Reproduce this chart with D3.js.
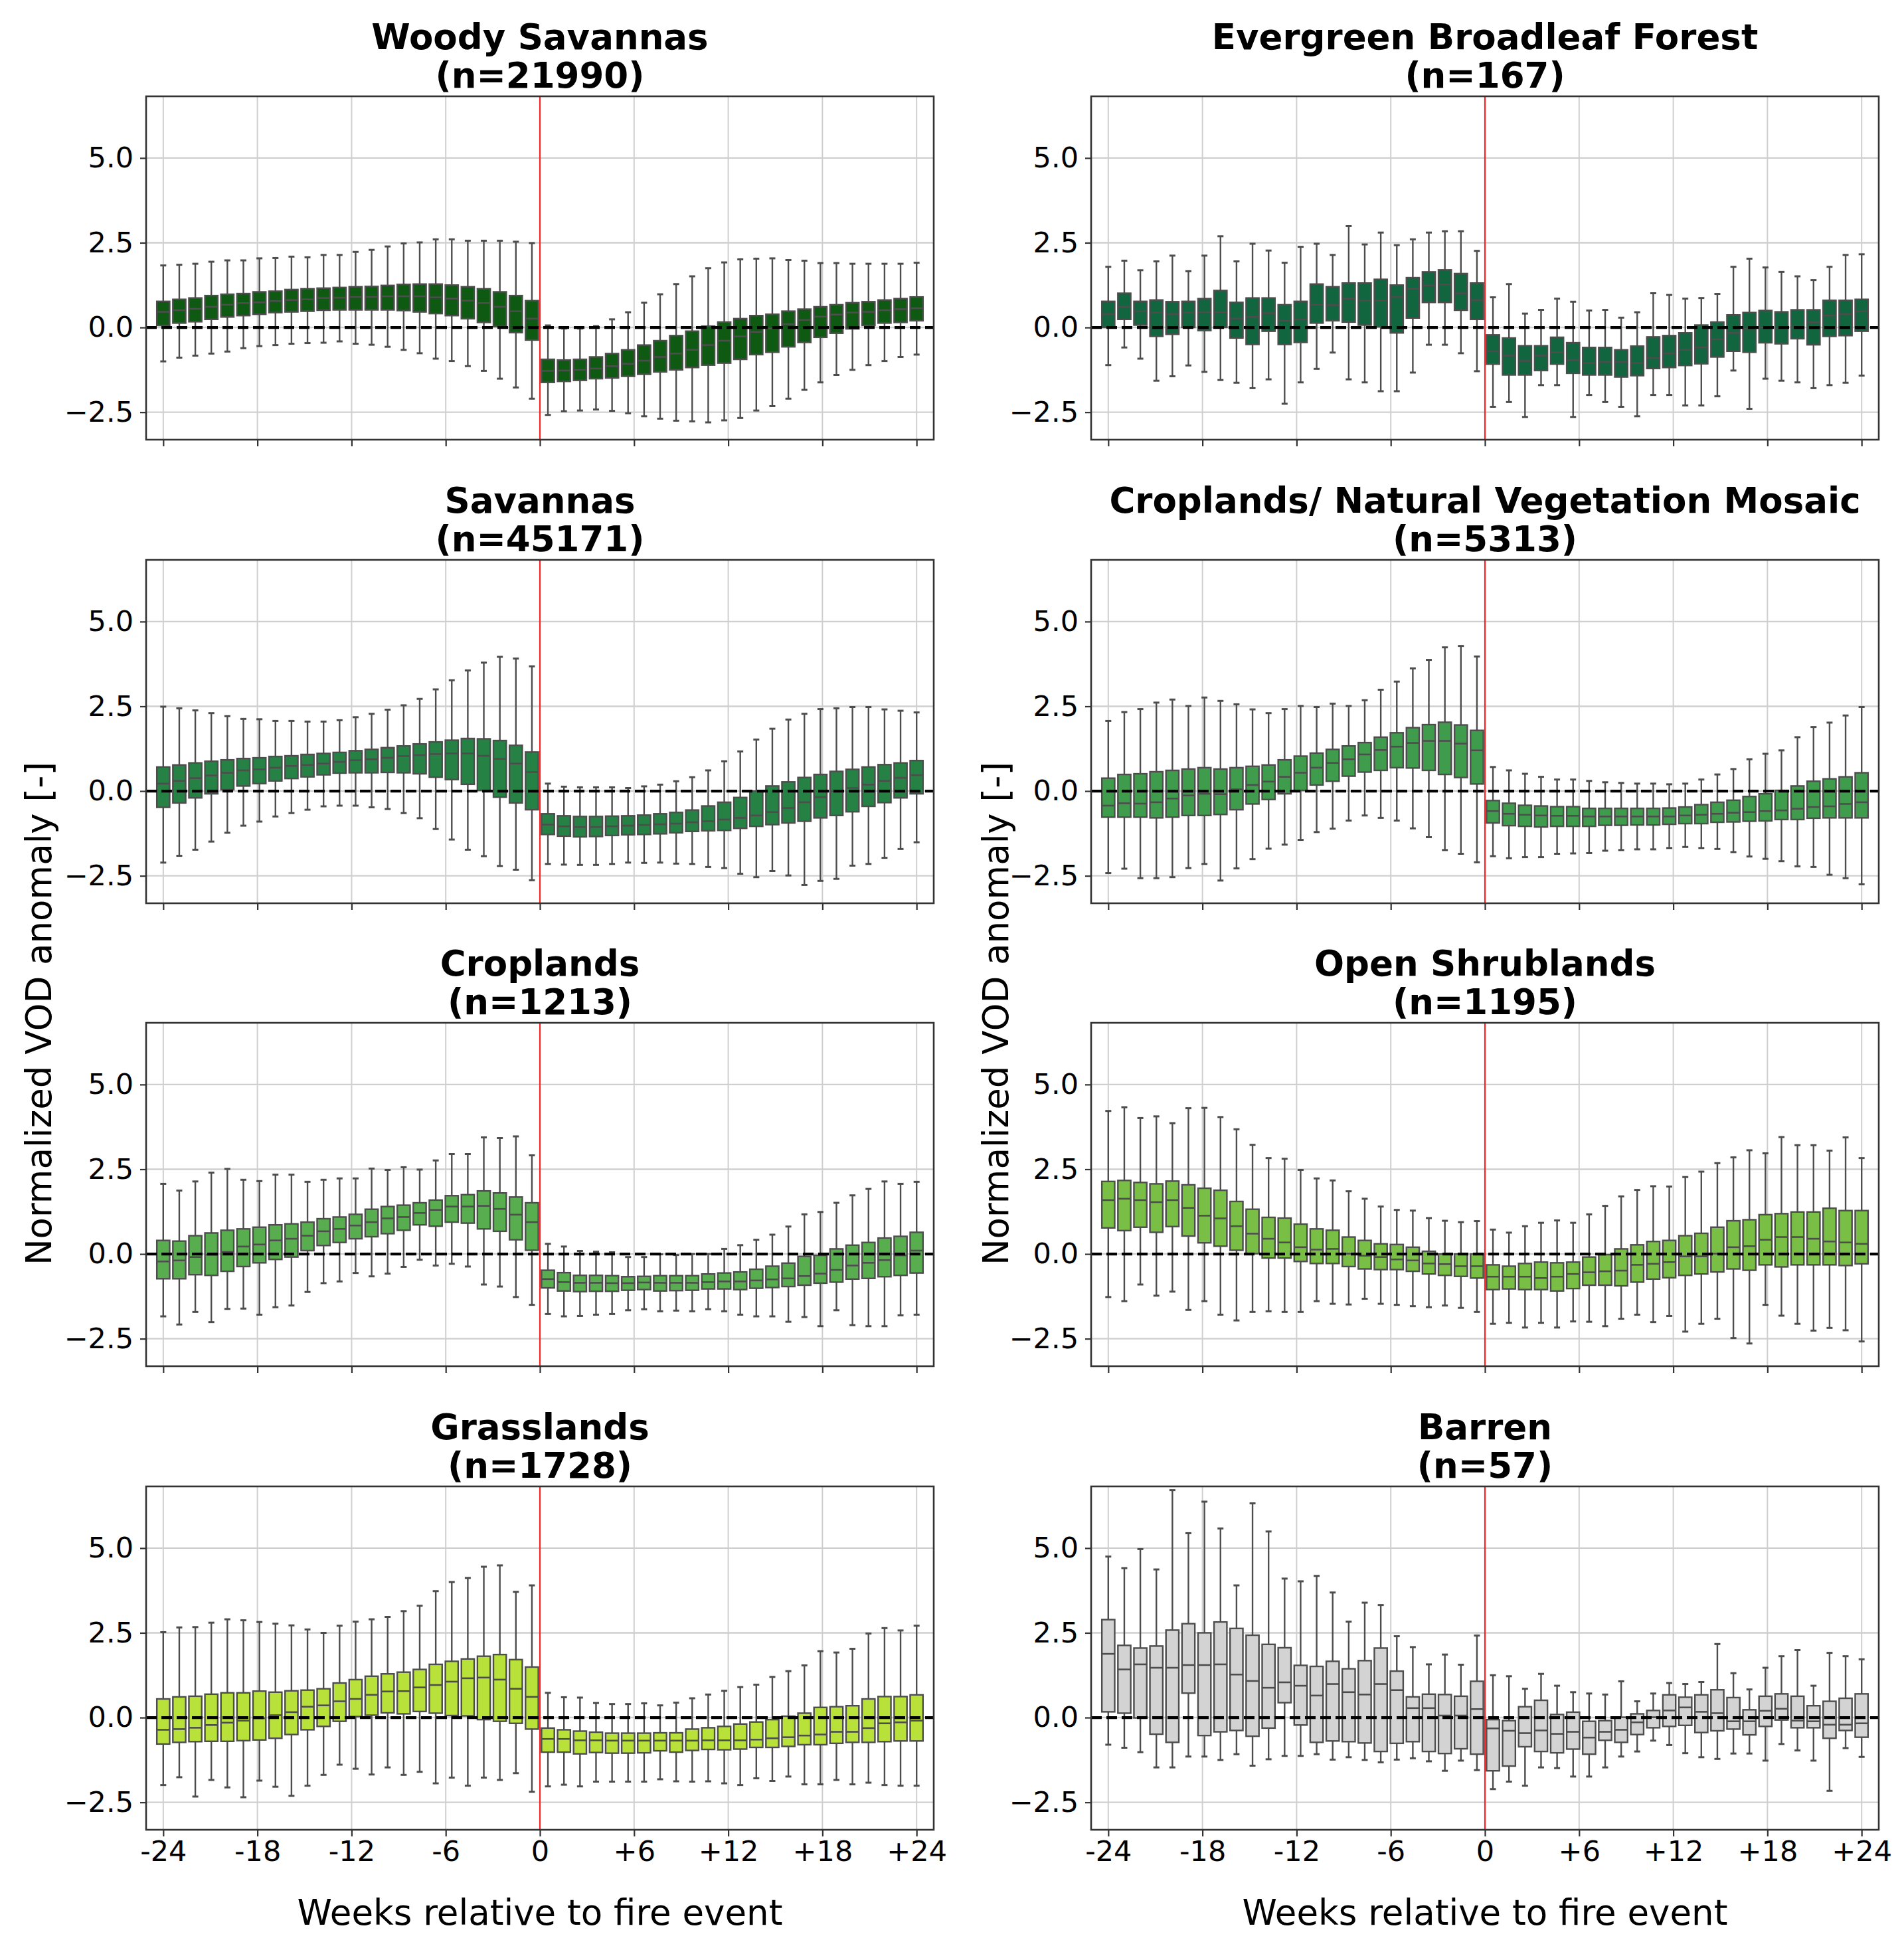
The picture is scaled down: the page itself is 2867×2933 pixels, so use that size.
<!DOCTYPE html>
<html>
<head>
<meta charset="utf-8">
<script src="https://cdn.jsdelivr.net/npm/d3@7"></script>
<style>
  body { margin: 0; background: #fff; }
  text { font-family: "DejaVu Sans", sans-serif; fill: #000; }
</style>
</head>
<body>
<div id="chart"></div>
<script>
"use strict";

// weeks relative to the fire event (no week 0 box)
const weeks = [-24, -23, -22, -21, -20, -19, -18, -17, -16, -15, -14, -13, -12, -11, -10, -9, -8, -7, -6, -5, -4, -3, -2, -1,
               1, 2, 3, 4, 5, 6, 7, 8, 9, 10, 11, 12, 13, 14, 15, 16, 17, 18, 19, 20, 21, 22, 23, 24];
const tickLabels = ["-24", "-18", "-12", "-6", "0", "+6", "+12", "+18", "+24"];
const yTicks = [-2.5, 0, 2.5, 5];

const panelTitles = ["Woody Savannas", "Evergreen Broadleaf Forest", "Savannas", "Croplands/ Natural Vegetation Mosaic",
                     "Croplands", "Open Shrublands", "Grasslands", "Barren"];
const panelCounts = [21990, 167, 45171, 5313, 1213, 1195, 1728, 57];

// each box: [lower whisker, q1, median, q3, upper whisker]
const woodySavannas = [
  [-1.00, 0.06, 0.46, 0.77, 1.83], [-0.89, 0.13, 0.51, 0.83, 1.85], [-0.83, 0.17, 0.55, 0.87, 1.88], [-0.77, 0.24, 0.61, 0.94, 1.94],
  [-0.71, 0.31, 0.67, 0.98, 1.98], [-0.61, 0.35, 0.72, 1.00, 1.98], [-0.55, 0.39, 0.74, 1.05, 2.04], [-0.52, 0.44, 0.78, 1.07, 2.05],
  [-0.48, 0.46, 0.81, 1.12, 2.09], [-0.46, 0.48, 0.83, 1.14, 2.07], [-0.45, 0.51, 0.87, 1.16, 2.14], [-0.41, 0.52, 0.88, 1.18, 2.14],
  [-0.48, 0.52, 0.90, 1.20, 2.23], [-0.51, 0.52, 0.90, 1.21, 2.29], [-0.57, 0.52, 0.92, 1.24, 2.39], [-0.66, 0.50, 0.92, 1.27, 2.48],
  [-0.76, 0.46, 0.92, 1.28, 2.51], [-0.92, 0.41, 0.89, 1.28, 2.60], [-0.99, 0.35, 0.85, 1.25, 2.60], [-1.14, 0.26, 0.79, 1.20, 2.56],
  [-1.28, 0.15, 0.72, 1.14, 2.56], [-1.51, 0.03, 0.61, 1.05, 2.56], [-1.77, -0.15, 0.48, 0.94, 2.53], [-2.10, -0.37, 0.26, 0.79, 2.49],
  [-2.58, -1.62, -1.28, -0.94, 0.06], [-2.47, -1.59, -1.27, -0.96, -0.03], [-2.45, -1.56, -1.25, -0.94, -0.03], [-2.42, -1.51, -1.21, -0.87, 0.04],
  [-2.46, -1.49, -1.14, -0.77, 0.24], [-2.53, -1.44, -1.07, -0.66, 0.45], [-2.62, -1.38, -0.98, -0.52, 0.73], [-2.69, -1.31, -0.87, -0.39, 0.98],
  [-2.75, -1.25, -0.77, -0.24, 1.28], [-2.77, -1.18, -0.66, -0.11, 1.51], [-2.80, -1.11, -0.52, 0.04, 1.75], [-2.74, -1.05, -0.39, 0.16, 1.92],
  [-2.67, -0.94, -0.26, 0.26, 2.01], [-2.45, -0.80, -0.13, 0.35, 2.03], [-2.32, -0.73, -0.03, 0.39, 2.04], [-2.10, -0.57, 0.10, 0.48, 1.99],
  [-1.84, -0.44, 0.22, 0.54, 1.97], [-1.62, -0.29, 0.32, 0.61, 1.90], [-1.40, -0.17, 0.38, 0.67, 1.90], [-1.25, -0.04, 0.44, 0.73, 1.88],
  [-1.11, 0.06, 0.46, 0.76, 1.88], [-0.99, 0.13, 0.51, 0.81, 1.88], [-0.87, 0.15, 0.54, 0.85, 1.88], [-0.80, 0.20, 0.57, 0.90, 1.91]
];

const evergreenBroadleaf = [
  [-1.11, 0.00, 0.39, 0.77, 1.79], [-0.59, 0.24, 0.61, 1.01, 1.97], [-0.92, 0.07, 0.48, 0.77, 1.69], [-1.57, -0.26, 0.44, 0.81, 1.95],
  [-1.44, -0.20, 0.39, 0.76, 2.12], [-1.12, 0.00, 0.44, 0.77, 1.66], [-1.31, -0.09, 0.45, 0.85, 2.12], [-1.55, 0.00, 0.45, 1.09, 2.69],
  [-1.63, -0.31, 0.26, 0.74, 1.95], [-1.79, -0.50, 0.31, 0.87, 2.47], [-1.53, -0.11, 0.42, 0.87, 2.27], [-2.25, -0.50, 0.20, 0.67, 1.91],
  [-1.62, -0.44, 0.24, 0.77, 2.38], [-1.22, 0.13, 0.67, 1.28, 2.47], [-0.74, 0.20, 0.66, 1.20, 2.14], [-1.53, 0.16, 0.85, 1.31, 2.99],
  [-1.62, 0.07, 0.79, 1.31, 2.45], [-1.88, 0.02, 0.79, 1.42, 2.80], [-1.88, -0.16, 0.90, 1.25, 2.43], [-1.33, 0.28, 1.14, 1.47, 2.60],
  [-0.51, 0.74, 1.24, 1.64, 2.80], [-0.51, 0.74, 1.27, 1.70, 2.84], [-0.76, 0.51, 1.01, 1.59, 2.84], [-1.29, 0.24, 0.81, 1.31, 2.26],
  [-2.34, -1.08, -0.70, -0.22, 0.89], [-2.20, -1.40, -0.83, -0.31, 1.28], [-2.64, -1.40, -0.99, -0.54, 0.41], [-1.70, -1.27, -0.83, -0.54, 0.52],
  [-1.70, -1.08, -0.73, -0.29, 0.85], [-2.64, -1.35, -0.96, -0.45, 0.76], [-1.99, -1.40, -1.05, -0.59, 0.50], [-2.20, -1.40, -1.02, -0.59, 0.52],
  [-2.34, -1.46, -1.02, -0.66, 0.29], [-2.62, -1.42, -1.05, -0.55, 0.45], [-1.99, -1.21, -0.90, -0.28, 1.01], [-1.99, -1.18, -0.76, -0.24, 0.96],
  [-2.30, -1.12, -0.66, -0.16, 0.85], [-2.30, -1.07, -0.59, 0.07, 0.87], [-2.03, -0.87, -0.35, 0.16, 0.99], [-1.27, -0.70, -0.16, 0.37, 1.79],
  [-2.40, -0.73, -0.04, 0.44, 2.03], [-1.51, -0.45, 0.00, 0.50, 1.77], [-1.57, -0.48, -0.03, 0.46, 1.64], [-1.62, -0.33, 0.02, 0.52, 1.51],
  [-1.79, -0.51, 0.15, 0.52, 1.40], [-1.70, -0.26, 0.35, 0.80, 1.79], [-1.63, -0.24, 0.39, 0.80, 2.14], [-1.42, -0.11, 0.48, 0.83, 2.16]
];

const savannas = [
  [-2.11, -0.48, 0.22, 0.71, 2.49], [-1.91, -0.35, 0.30, 0.77, 2.44], [-1.73, -0.20, 0.38, 0.83, 2.38], [-1.49, -0.08, 0.46, 0.88, 2.30],
  [-1.23, 0.04, 0.54, 0.92, 2.21], [-1.02, 0.15, 0.61, 0.96, 2.13], [-0.90, 0.22, 0.64, 0.98, 2.12], [-0.75, 0.30, 0.69, 1.02, 2.07],
  [-0.65, 0.37, 0.74, 1.04, 2.07], [-0.55, 0.42, 0.77, 1.08, 2.05], [-0.45, 0.48, 0.81, 1.11, 2.05], [-0.43, 0.53, 0.86, 1.14, 2.09],
  [-0.43, 0.54, 0.91, 1.19, 2.18], [-0.48, 0.54, 0.94, 1.23, 2.28], [-0.53, 0.55, 0.98, 1.28, 2.40], [-0.65, 0.54, 1.03, 1.33, 2.53],
  [-0.80, 0.51, 1.06, 1.39, 2.72], [-1.12, 0.41, 1.09, 1.45, 3.00], [-1.43, 0.34, 1.11, 1.50, 3.27], [-1.73, 0.20, 1.11, 1.55, 3.56],
  [-1.92, 0.02, 1.04, 1.54, 3.79], [-2.21, -0.18, 0.95, 1.49, 3.96], [-2.32, -0.35, 0.81, 1.35, 3.91], [-2.63, -0.55, 0.56, 1.15, 3.68],
  [-2.15, -1.28, -0.99, -0.67, 0.22], [-2.17, -1.33, -1.04, -0.73, 0.13], [-2.18, -1.35, -1.06, -0.75, 0.11], [-2.18, -1.34, -1.06, -0.75, 0.11],
  [-2.15, -1.31, -1.04, -0.74, 0.11], [-2.11, -1.29, -1.02, -0.73, 0.09], [-2.12, -1.28, -1.00, -0.71, 0.14], [-2.11, -1.26, -0.98, -0.67, 0.19],
  [-2.14, -1.23, -0.96, -0.63, 0.29], [-2.15, -1.19, -0.92, -0.56, 0.41], [-2.24, -1.17, -0.89, -0.44, 0.61], [-2.27, -1.16, -0.84, -0.33, 0.88],
  [-2.44, -1.10, -0.79, -0.19, 1.17], [-2.54, -1.04, -0.72, 0.00, 1.52], [-2.36, -0.99, -0.62, 0.15, 1.84], [-2.49, -0.94, -0.50, 0.27, 2.11],
  [-2.77, -0.89, -0.33, 0.40, 2.28], [-2.65, -0.79, -0.18, 0.49, 2.42], [-2.59, -0.72, -0.01, 0.58, 2.44], [-2.20, -0.61, 0.09, 0.64, 2.48],
  [-2.15, -0.45, 0.19, 0.71, 2.48], [-1.97, -0.34, 0.30, 0.78, 2.41], [-1.71, -0.20, 0.39, 0.83, 2.37], [-1.51, -0.08, 0.47, 0.90, 2.32]
];

const croplandsMosaic = [
  [-2.42, -0.77, -0.43, 0.38, 2.07], [-2.29, -0.77, -0.36, 0.49, 2.33], [-2.57, -0.77, -0.37, 0.51, 2.42], [-2.57, -0.79, -0.33, 0.57, 2.61],
  [-2.54, -0.77, -0.22, 0.61, 2.70], [-2.27, -0.72, -0.13, 0.65, 2.51], [-2.15, -0.72, -0.08, 0.69, 2.76], [-2.64, -0.69, -0.09, 0.65, 2.66],
  [-2.28, -0.55, 0.05, 0.69, 2.56], [-2.01, -0.38, 0.18, 0.73, 2.41], [-1.70, -0.25, 0.28, 0.77, 2.30], [-1.58, -0.08, 0.42, 0.92, 2.42],
  [-1.44, 0.02, 0.54, 1.03, 2.51], [-1.21, 0.18, 0.69, 1.12, 2.48], [-1.11, 0.29, 0.83, 1.23, 2.58], [-0.87, 0.44, 0.94, 1.33, 2.51],
  [-0.72, 0.56, 1.08, 1.43, 2.68], [-0.79, 0.61, 1.21, 1.59, 2.99], [-0.87, 0.69, 1.31, 1.72, 3.23], [-1.10, 0.68, 1.42, 1.87, 3.62],
  [-1.36, 0.61, 1.48, 1.96, 3.87], [-1.74, 0.49, 1.48, 2.03, 4.24], [-1.85, 0.40, 1.40, 1.95, 4.28], [-2.10, 0.21, 1.20, 1.79, 3.97],
  [-1.92, -0.94, -0.59, -0.28, 0.71], [-1.98, -1.02, -0.67, -0.36, 0.61], [-1.95, -1.04, -0.70, -0.42, 0.51], [-1.95, -1.06, -0.72, -0.44, 0.42],
  [-1.85, -1.04, -0.73, -0.46, 0.34], [-1.84, -1.04, -0.73, -0.46, 0.34], [-1.83, -1.04, -0.75, -0.51, 0.30], [-1.76, -1.01, -0.75, -0.51, 0.26],
  [-1.74, -1.01, -0.75, -0.51, 0.24], [-1.72, -1.00, -0.75, -0.51, 0.22], [-1.72, -1.00, -0.75, -0.51, 0.22], [-1.68, -0.98, -0.75, -0.50, 0.20],
  [-1.65, -0.96, -0.72, -0.47, 0.22], [-1.68, -0.96, -0.70, -0.40, 0.34], [-1.71, -0.92, -0.67, -0.33, 0.49], [-1.80, -0.91, -0.64, -0.27, 0.65],
  [-1.93, -0.89, -0.62, -0.16, 0.94], [-2.00, -0.88, -0.59, -0.08, 1.10], [-2.07, -0.84, -0.57, 0.02, 1.20], [-2.22, -0.84, -0.52, 0.15, 1.59],
  [-2.24, -0.80, -0.47, 0.29, 1.89], [-2.47, -0.79, -0.45, 0.36, 2.02], [-2.57, -0.79, -0.38, 0.42, 2.23], [-2.75, -0.79, -0.33, 0.54, 2.48]
];

const croplands = [
  [-1.84, -0.73, -0.22, 0.40, 2.07], [-2.08, -0.73, -0.19, 0.38, 1.87], [-1.71, -0.61, -0.09, 0.54, 2.14], [-2.01, -0.63, -0.02, 0.62, 2.40],
  [-1.62, -0.51, 0.06, 0.70, 2.51], [-1.61, -0.37, 0.22, 0.74, 2.19], [-1.79, -0.26, 0.28, 0.79, 2.15], [-1.57, -0.16, 0.40, 0.86, 2.34],
  [-1.52, -0.09, 0.45, 0.89, 2.34], [-1.12, 0.10, 0.54, 0.94, 2.13], [-0.86, 0.25, 0.67, 1.04, 2.19], [-0.81, 0.34, 0.74, 1.09, 2.23],
  [-0.56, 0.45, 0.84, 1.17, 2.23], [-0.66, 0.51, 0.94, 1.32, 2.52], [-0.58, 0.60, 1.05, 1.40, 2.48], [-0.38, 0.70, 1.09, 1.44, 2.56],
  [-0.17, 0.86, 1.21, 1.51, 2.49], [-0.34, 0.82, 1.30, 1.59, 2.76], [-0.29, 0.94, 1.40, 1.72, 2.95], [-0.37, 0.91, 1.40, 1.75, 2.95],
  [-0.90, 0.74, 1.42, 1.86, 3.44], [-0.96, 0.67, 1.33, 1.80, 3.42], [-1.27, 0.42, 1.16, 1.68, 3.47], [-1.50, 0.11, 0.94, 1.51, 2.91],
  [-1.77, -1.00, -0.74, -0.48, 0.30], [-1.84, -1.09, -0.83, -0.55, 0.22], [-1.83, -1.11, -0.85, -0.63, 0.09], [-1.79, -1.10, -0.85, -0.63, 0.07],
  [-1.77, -1.10, -0.86, -0.64, 0.05], [-1.66, -1.07, -0.86, -0.67, -0.09], [-1.63, -1.05, -0.84, -0.66, -0.09], [-1.69, -1.09, -0.85, -0.64, -0.01],
  [-1.67, -1.08, -0.85, -0.64, -0.03], [-1.69, -1.07, -0.85, -0.64, 0.00], [-1.63, -1.03, -0.83, -0.59, 0.00], [-1.69, -1.03, -0.81, -0.56, 0.15],
  [-1.79, -1.05, -0.81, -0.53, 0.26], [-1.84, -1.01, -0.78, -0.45, 0.42], [-1.84, -0.99, -0.75, -0.36, 0.57], [-2.00, -0.96, -0.72, -0.27, 0.81],
  [-1.86, -0.92, -0.65, -0.07, 1.17], [-2.13, -0.86, -0.58, -0.04, 1.24], [-1.66, -0.83, -0.47, 0.15, 1.51], [-2.10, -0.74, -0.34, 0.26, 1.73],
  [-2.13, -0.72, -0.26, 0.34, 1.92], [-2.13, -0.67, -0.18, 0.47, 2.14], [-1.81, -0.63, -0.04, 0.52, 2.07], [-1.79, -0.56, 0.10, 0.64, 2.13]
];

const openShrublands = [
  [-1.27, 0.77, 1.59, 2.14, 4.22], [-1.39, 0.69, 1.63, 2.17, 4.33], [-0.90, 0.79, 1.59, 2.11, 4.01], [-1.23, 0.64, 1.53, 2.07, 4.06],
  [-1.11, 0.81, 1.59, 2.15, 3.86], [-1.65, 0.53, 1.36, 2.04, 4.30], [-1.39, 0.33, 1.13, 1.94, 4.31], [-1.79, 0.23, 1.05, 1.88, 4.04],
  [-1.96, 0.11, 0.82, 1.55, 3.68], [-1.71, 0.01, 0.60, 1.32, 3.22], [-1.69, -0.12, 0.45, 1.08, 2.83], [-1.71, -0.12, 0.34, 1.06, 2.81],
  [-1.71, -0.22, 0.20, 0.88, 2.48], [-1.39, -0.28, 0.13, 0.74, 2.23], [-1.47, -0.28, 0.15, 0.70, 2.17], [-1.49, -0.37, 0.01, 0.50, 1.85],
  [-1.32, -0.44, -0.05, 0.40, 1.63], [-1.47, -0.46, -0.09, 0.30, 1.40], [-1.50, -0.46, -0.16, 0.28, 1.30], [-1.54, -0.51, -0.19, 0.20, 1.28],
  [-1.57, -0.59, -0.28, 0.08, 1.06], [-1.52, -0.63, -0.30, 0.00, 0.98], [-1.59, -0.66, -0.36, 0.00, 0.94], [-1.71, -0.71, -0.36, 0.00, 0.97],
  [-2.06, -1.05, -0.67, -0.32, 0.72], [-2.03, -1.03, -0.67, -0.36, 0.63], [-2.17, -1.05, -0.67, -0.28, 0.82], [-2.03, -1.05, -0.71, -0.24, 0.92],
  [-2.17, -1.09, -0.67, -0.26, 0.99], [-1.99, -1.02, -0.59, -0.24, 0.92], [-2.00, -0.92, -0.54, -0.09, 1.17], [-2.13, -0.92, -0.51, -0.02, 1.42],
  [-1.91, -0.94, -0.49, 0.15, 1.70], [-1.79, -0.83, -0.32, 0.27, 1.89], [-2.01, -0.74, -0.29, 0.37, 2.00], [-1.83, -0.70, -0.24, 0.40, 1.99],
  [-2.29, -0.63, -0.07, 0.54, 2.27], [-2.06, -0.59, -0.07, 0.61, 2.43], [-1.91, -0.53, 0.01, 0.79, 2.68], [-2.48, -0.44, 0.20, 0.98, 2.85],
  [-2.64, -0.48, 0.23, 1.01, 3.06], [-1.50, -0.32, 0.42, 1.16, 2.97], [-1.82, -0.38, 0.50, 1.19, 3.45], [-2.06, -0.32, 0.50, 1.24, 3.21],
  [-2.26, -0.32, 0.45, 1.24, 3.21], [-2.18, -0.32, 0.37, 1.35, 3.05], [-2.25, -0.34, 0.34, 1.28, 3.44], [-2.58, -0.29, 0.30, 1.28, 2.83]
];

const grasslands = [
  [-1.99, -0.78, -0.36, 0.55, 2.52], [-1.76, -0.73, -0.34, 0.61, 2.66], [-2.33, -0.71, -0.30, 0.63, 2.67], [-1.84, -0.70, -0.22, 0.69, 2.80],
  [-2.06, -0.70, -0.15, 0.73, 2.90], [-2.35, -0.68, -0.09, 0.73, 2.87], [-1.86, -0.66, -0.02, 0.78, 2.82], [-2.04, -0.61, 0.07, 0.75, 2.77],
  [-2.31, -0.50, 0.16, 0.79, 2.72], [-2.01, -0.36, 0.32, 0.81, 2.60], [-1.69, -0.26, 0.36, 0.85, 2.50], [-1.39, -0.11, 0.48, 1.02, 2.71],
  [-1.51, 0.03, 0.55, 1.12, 2.83], [-1.68, 0.07, 0.67, 1.22, 2.90], [-1.47, 0.14, 0.77, 1.29, 2.97], [-1.69, 0.11, 0.78, 1.34, 3.14],
  [-1.60, 0.18, 0.89, 1.42, 3.30], [-1.94, 0.13, 0.96, 1.57, 3.73], [-1.77, 0.06, 1.06, 1.66, 4.00], [-2.01, 0.05, 1.16, 1.73, 4.12],
  [-1.77, -0.06, 1.18, 1.81, 4.45], [-1.84, -0.11, 1.12, 1.86, 4.49], [-1.64, -0.17, 0.85, 1.71, 3.71], [-2.19, -0.34, 0.61, 1.49, 3.90],
  [-2.03, -1.02, -0.63, -0.31, 0.73], [-1.98, -1.02, -0.63, -0.36, 0.60], [-2.03, -1.07, -0.67, -0.40, 0.59], [-1.89, -1.03, -0.67, -0.43, 0.43],
  [-1.89, -1.05, -0.68, -0.46, 0.40], [-1.89, -1.05, -0.68, -0.46, 0.40], [-1.89, -1.04, -0.68, -0.46, 0.42], [-1.82, -0.98, -0.68, -0.45, 0.36],
  [-1.88, -1.02, -0.68, -0.45, 0.44], [-1.89, -0.97, -0.68, -0.34, 0.57], [-1.88, -0.94, -0.67, -0.30, 0.68], [-1.94, -0.95, -0.67, -0.26, 0.79],
  [-1.99, -0.93, -0.67, -0.19, 0.90], [-1.79, -0.88, -0.65, -0.13, 0.97], [-1.87, -0.88, -0.61, -0.06, 1.20], [-1.74, -0.85, -0.58, 0.04, 1.37],
  [-1.97, -0.80, -0.53, 0.13, 1.54], [-1.97, -0.80, -0.50, 0.30, 1.96], [-1.84, -0.76, -0.42, 0.32, 1.92], [-1.97, -0.73, -0.42, 0.35, 2.03],
  [-1.92, -0.73, -0.31, 0.55, 2.48], [-1.99, -0.71, -0.17, 0.62, 2.64], [-2.01, -0.69, -0.14, 0.62, 2.57], [-2.01, -0.69, -0.09, 0.67, 2.71]
];

const barren = [
  [-0.80, 0.17, 1.88, 2.89, 4.75], [-0.89, 0.13, 1.42, 2.13, 4.41], [-1.02, -0.01, 1.57, 2.05, 4.97], [-1.47, -0.49, 1.47, 2.11, 4.37],
  [-1.47, -0.73, 1.47, 2.58, 6.71], [-1.15, 0.72, 1.55, 2.77, 5.44], [-1.15, -0.53, 1.55, 2.50, 6.37], [-1.25, -0.42, 1.57, 2.82, 5.58],
  [-1.08, -0.38, 1.27, 2.63, 3.90], [-1.42, -0.55, 1.08, 2.43, 6.32], [-1.23, -0.31, 0.88, 2.16, 5.49], [-1.13, 0.44, 1.04, 2.06, 4.10],
  [-1.13, -0.22, 0.94, 1.54, 4.02], [-1.08, -0.73, 0.65, 1.51, 4.18], [-1.24, -0.69, 0.99, 1.66, 3.69], [-1.17, -0.71, 0.75, 1.44, 2.83],
  [-1.25, -0.75, 0.68, 1.68, 3.39], [-1.32, -1.00, 0.99, 2.05, 3.32], [-1.24, -0.76, 0.81, 1.37, 2.40], [-1.20, -0.71, 0.28, 0.61, 2.08],
  [-1.29, -1.00, 0.28, 0.69, 1.57], [-1.57, -1.06, 0.06, 0.68, 1.86], [-1.27, -0.92, 0.06, 0.63, 1.56], [-1.55, -1.08, 0.25, 1.07, 2.42],
  [-2.11, -1.57, -0.32, -0.06, 1.25], [-1.89, -1.43, -0.39, -0.09, 1.22], [-2.01, -0.86, -0.46, 0.32, 0.85], [-1.47, -1.00, -0.38, 0.51, 1.29],
  [-1.49, -1.04, -0.48, 0.09, 0.94], [-1.74, -0.93, -0.42, 0.16, 0.75], [-1.74, -1.08, -0.59, -0.11, 0.71], [-1.47, -0.67, -0.42, -0.09, 0.68],
  [-1.15, -0.73, -0.36, 0.01, 1.07], [-1.00, -0.50, -0.14, 0.11, 0.48], [-0.68, -0.30, 0.01, 0.21, 0.71], [-0.81, -0.26, 0.21, 0.67, 1.02],
  [-1.05, -0.23, 0.30, 0.60, 0.99], [-1.17, -0.44, 0.17, 0.67, 1.05], [-1.22, -0.39, 0.13, 0.82, 2.17], [-1.06, -0.34, -0.11, 0.59, 1.31],
  [-1.06, -0.51, -0.11, 0.23, 0.83], [-1.27, -0.26, 0.20, 0.63, 1.47], [-0.78, -0.07, 0.26, 0.70, 1.81], [-0.97, -0.30, -0.09, 0.63, 1.99],
  [-1.27, -0.30, -0.11, 0.35, 0.94], [-2.16, -0.61, -0.21, 0.48, 1.91], [-0.90, -0.38, -0.21, 0.57, 1.81], [-1.16, -0.58, -0.17, 0.70, 1.72]
];

const panelStats = [woodySavannas, evergreenBroadleaf, savannas, croplandsMosaic, croplands, openShrublands, grasslands, barren];
const panelColors = ["#0e5a12", "#11653f", "#268144", "#3f9c4c", "#58ae4f", "#79bf45", "#b8e23a", "#d3d3d3"];

// ---------------- layout ----------------
const W = 2867, H = 2933;
const colX = [220, 1643];
const rowY = [145, 843, 1540, 2238];
const plotW = 1186, plotH = 517;

const svg = d3.select("#chart").append("svg")
  .attr("width", W).attr("height", H)
  .attr("viewBox", "0 0 " + W + " " + H);

svg.append("rect").attr("width", W).attr("height", H).attr("fill", "#fff");

const x = d3.scaleLinear().domain([-1.07, 48.07]).range([0, plotW]);
const y = d3.scaleLinear().domain([-3.31, 6.82]).range([plotH, 0]);
const tickPos = tickLabels.map((d, i) => i * (weeks.length - 1) / (tickLabels.length - 1));
const boxW = (x(1) - x(0)) * 0.8;
const capW = 9;
const lineCol = "#4d4d4d";

function fmtY(d) {
  return d < 0 ? "\u2212" + Math.abs(d).toFixed(1) : d.toFixed(1);
}

panelStats.forEach(function (stats, p) {
  var col = p % 2, row = Math.floor(p / 2);
  var g = svg.append("g")
    .attr("transform", "translate(" + colX[col] + "," + rowY[row] + ")");

  // grid
  g.append("g").selectAll("line").data(tickPos).join("line")
    .attr("x1", d => x(d)).attr("x2", d => x(d))
    .attr("y1", 0).attr("y2", plotH)
    .attr("stroke", "#cfcfcf").attr("stroke-width", 2);
  g.append("g").selectAll("line").data(yTicks).join("line")
    .attr("x1", 0).attr("x2", plotW)
    .attr("y1", d => y(d)).attr("y2", d => y(d))
    .attr("stroke", "#cfcfcf").attr("stroke-width", 2.4);

  // boxes
  var boxes = g.append("g").selectAll("g").data(stats).join("g");
  boxes.append("line")
    .attr("x1", (d, i) => x(i)).attr("x2", (d, i) => x(i))
    .attr("y1", d => y(d[0])).attr("y2", d => y(d[1]))
    .attr("stroke", lineCol).attr("stroke-width", 2.4);
  boxes.append("line")
    .attr("x1", (d, i) => x(i)).attr("x2", (d, i) => x(i))
    .attr("y1", d => y(d[3])).attr("y2", d => y(d[4]))
    .attr("stroke", lineCol).attr("stroke-width", 2.4);
  boxes.append("line")
    .attr("x1", (d, i) => x(i) - capW / 2).attr("x2", (d, i) => x(i) + capW / 2)
    .attr("y1", d => y(d[0])).attr("y2", d => y(d[0]))
    .attr("stroke", lineCol).attr("stroke-width", 3);
  boxes.append("line")
    .attr("x1", (d, i) => x(i) - capW / 2).attr("x2", (d, i) => x(i) + capW / 2)
    .attr("y1", d => y(d[4])).attr("y2", d => y(d[4]))
    .attr("stroke", lineCol).attr("stroke-width", 3);
  boxes.append("rect")
    .attr("x", (d, i) => x(i) - boxW / 2)
    .attr("y", d => y(d[3]))
    .attr("width", boxW)
    .attr("height", d => y(d[1]) - y(d[3]))
    .attr("fill", panelColors[p])
    .attr("stroke", lineCol).attr("stroke-width", 2.4);
  boxes.append("line")
    .attr("x1", (d, i) => x(i) - boxW / 2).attr("x2", (d, i) => x(i) + boxW / 2)
    .attr("y1", d => y(d[2])).attr("y2", d => y(d[2]))
    .attr("stroke", lineCol).attr("stroke-width", 2.6);

  // fire event and zero line
  g.append("line")
    .attr("x1", x(23.5)).attr("x2", x(23.5))
    .attr("y1", 0).attr("y2", plotH)
    .attr("stroke", "#ff2020").attr("stroke-width", 2.2);
  g.append("line")
    .attr("x1", 0).attr("x2", plotW)
    .attr("y1", y(0)).attr("y2", y(0))
    .attr("stroke", "#000").attr("stroke-width", 4.2)
    .attr("stroke-dasharray", "16,7");

  // axes
  var ya = g.append("g")
    .call(d3.axisLeft(y).tickValues(yTicks).tickFormat(fmtY).tickSize(9).tickPadding(10));
  var xa = g.append("g")
    .attr("transform", "translate(0," + plotH + ")")
    .call(d3.axisBottom(x).tickValues(tickPos)
      .tickFormat((d, i) => row == 3 ? tickLabels[i] : "")
      .tickSize(10).tickPadding(6));
  [ya, xa].forEach(function (a) {
    a.select(".domain").remove();
    a.selectAll(".tick line").attr("stroke", "#333").attr("stroke-width", 2.2);
    a.selectAll(".tick text").style("font-size", "43px").attr("fill", "#000");
  });

  // spines
  g.append("rect")
    .attr("width", plotW).attr("height", plotH)
    .attr("fill", "none").attr("stroke", "#333").attr("stroke-width", 2.6);

  // title
  var t = g.append("text")
    .attr("text-anchor", "middle")
    .style("font-size", "53px").style("font-weight", "bold");
  t.append("tspan").attr("x", plotW / 2).attr("y", -71).text(panelTitles[p]);
  t.append("tspan").attr("x", plotW / 2).attr("y", -13).text("(n=" + panelCounts[p] + ")");

  if (row == 3) {
    g.append("text")
      .attr("x", plotW / 2).attr("y", 2898 - rowY[3])
      .attr("text-anchor", "middle")
      .style("font-size", "53px")
      .text("Weeks relative to fire event");
  }
});

// y labels, one per column
[77, 1518].forEach(function (lx) {
  svg.append("text")
    .attr("transform", "translate(" + lx + ",1526) rotate(-90)")
    .attr("text-anchor", "middle")
    .style("font-size", "53px")
    .text("Normalized VOD anomaly [-]");
});
</script>
</body>
</html>
